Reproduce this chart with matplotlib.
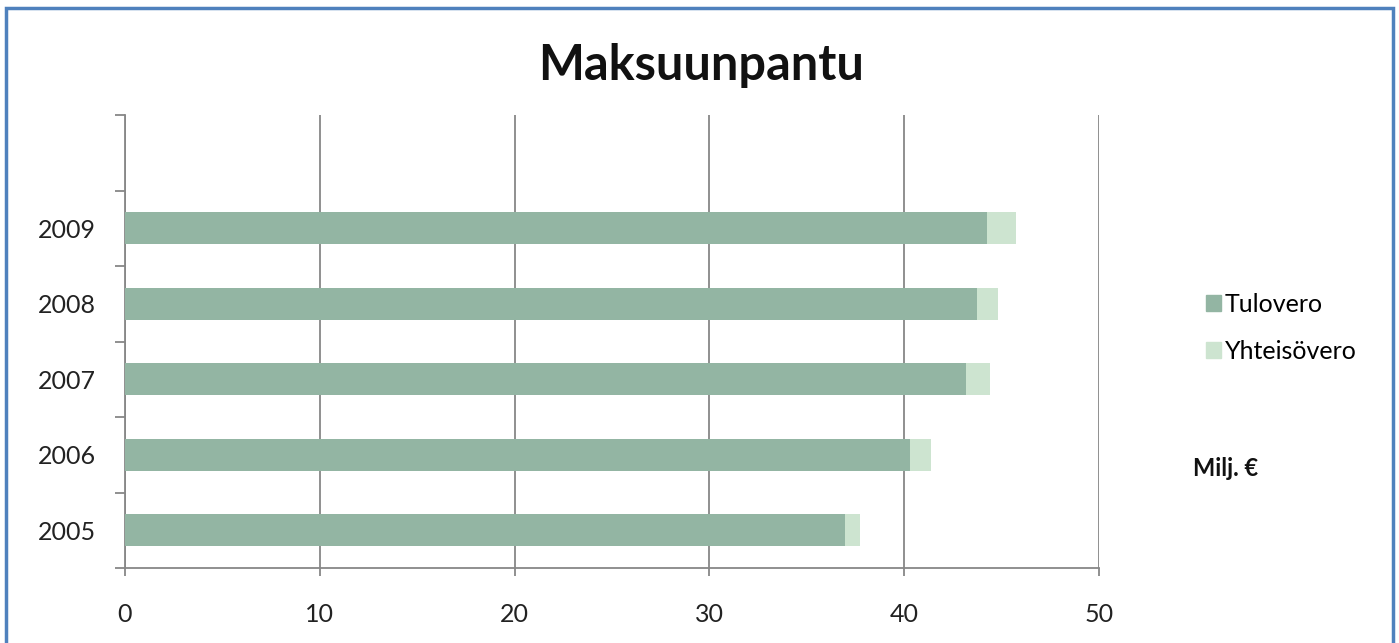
import matplotlib
matplotlib.use("Agg")
import matplotlib.pyplot as plt
import matplotlib.patches as mpatches
import numpy as np

years = ["2005", "2006", "2007", "2008", "2009"]
tulovero = [36.98, 40.31, 43.17, 43.72, 44.27]
yhteisovero = [0.77, 1.05, 1.23, 1.11, 1.47]

C_TULO = "#93b5a3"
C_YHT = "#cde4d0"
GRID = "#878787"

plt.rcParams["font.family"] = ["Lato", "DejaVu Sans"]

fig = plt.figure(figsize=(13.99, 6.43), dpi=100)
ax = fig.add_axes([125 / 1399, 1 - 568 / 643, (1099 - 125) / 1399, (568 - 115) / 643])

pos = np.arange(len(years))
ax.barh(pos, tulovero, height=0.42, color=C_TULO, label="Tulovero", zorder=3)
ax.barh(pos, yhteisovero, left=tulovero, height=0.42, color=C_YHT,
        label="Yhteisövero", zorder=3)

ax.set_xlim(0, 50)
ax.set_ylim(-0.5, 5.5)
ax.set_xticks(range(0, 51, 10))
ax.set_yticks(pos)
ax.set_yticklabels(years)
ax.set_yticks(np.arange(-0.5, 5.6, 1), minor=True)

ax.tick_params(axis="y", which="major", length=0, pad=21, labelsize=18, labelcolor="#222222")
ax.tick_params(axis="y", which="minor", length=7, width=1.3, color=GRID, direction="out")
ax.tick_params(axis="x", length=6, width=1.3, color=GRID, direction="out",
               pad=19, labelsize=18, labelcolor="#222222")

ax.grid(axis="x", color=GRID, linewidth=1.3, zorder=0)
for s in ["top", "right"]:
    ax.spines[s].set_visible(False)
for s in ["left", "bottom"]:
    ax.spines[s].set_color(GRID)
    ax.spines[s].set_linewidth(1.3)

fig.text(701 / 1399, 1 - 66 / 643, "Maksuunpantu", ha="center", va="center",
         fontsize=35, fontweight="bold", color="#111111")

handles = [mpatches.Patch(color=C_TULO, label="Tulovero"),
           mpatches.Patch(color=C_YHT, label="Yhteisövero")]
fig.legend(handles=handles, loc="upper left",
           bbox_to_anchor=(1206 / 1399, 1 - 293 / 643), frameon=False,
           borderpad=0, borderaxespad=0,
           handlelength=0.6, handleheight=0.6, handletextpad=0.15,
           labelspacing=0.95, fontsize=18)

fig.text(1193 / 1399, 1 - 468 / 643, "Milj. €", ha="left", va="center",
         fontsize=17, fontweight="bold", color="#111111")

# outer frame
fig.patches.append(mpatches.Rectangle((6 / 1399, -0.05), (1393 - 6) / 1399, 1.05 - 8 / 643,
                                      transform=fig.transFigure, fill=False,
                                      edgecolor="#4f81bd", linewidth=2.5))

fig.savefig("out.png", dpi=100, facecolor="white")
